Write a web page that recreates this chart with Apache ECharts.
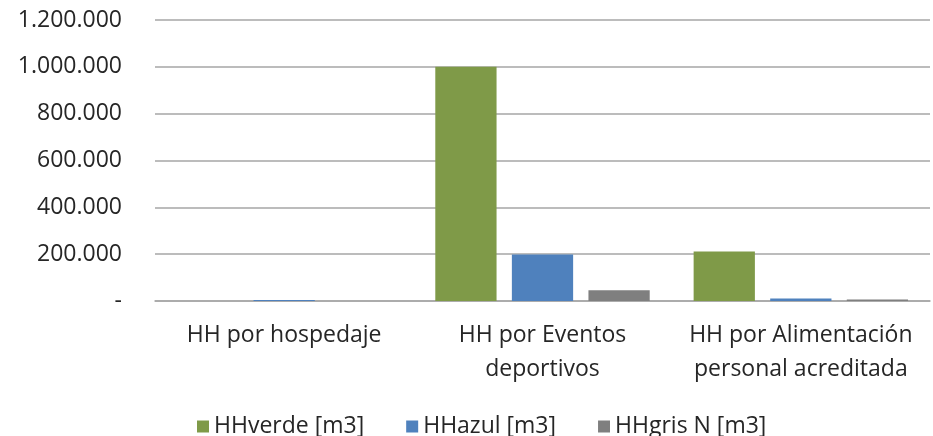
<!DOCTYPE html>
<html>
<head>
<meta charset="utf-8">
<script src="https://cdn.jsdelivr.net/npm/echarts@6/dist/echarts.min.js"></script>
<style>
    html, body { margin: 0; padding: 0; background: #fff; }
    #chart { width: 933px; height: 436px; }
</style>
</head>
<body>
<div id="chart"></div>
<script>
    // categorias y valores
    var categorias = ['HH por hospedaje', 'HH por Eventos\ndeportivos', 'HH por Alimentación\npersonal acreditada'];
    var seriesNombres = ['HHverde [m3]', 'HHazul [m3]', 'HHgris N [m3]'];
    var hhVerde = [0, 1000000, 211000];
    var hhAzul = [4000, 199000, 11000];
    var hhGris = [0, 46000, 6000];
    var colores = ['#7F9A48', '#4F81BD', '#7F7F7F'];

    var fuente = '"Open Sans", "Noto Sans", sans-serif';

    function formatoMiles(v) {
        if (v === 0) return '-';
        return String(v).replace(/\B(?=(\d{3})+(?!\d))/g, '.');
    }

    var chart = echarts.init(document.getElementById('chart'));
    var datos = [hhVerde, hhAzul, hhGris];

    chart.setOption({
        animation: false,
        color: colores,
        textStyle: { fontFamily: fuente },
        grid: { left: 155, right: 3, top: 20, bottom: 135 },
        legend: {
            bottom: -7,
            left: 192,
            itemWidth: 12,
            itemHeight: 12,
            itemGap: 42,
            icon: 'rect',
            textStyle: { fontSize: 23, color: '#262626', fontFamily: fuente },
            data: seriesNombres
        },
        xAxis: {
            type: 'category',
            data: categorias,
            axisLine: { lineStyle: { color: '#A6A6A6', width: 1.5 } },
            axisTick: { show: false },
            axisLabel: {
                color: '#262626',
                fontSize: 23,
                lineHeight: 34,
                margin: 17,
                interval: 0
            }
        },
        yAxis: {
            type: 'value',
            min: 0,
            max: 1200000,
            interval: 200000,
            axisLine: { show: false },
            axisTick: { show: false },
            splitLine: { lineStyle: { color: '#A6A6A6', width: 1.5 } },
            axisLabel: {
                color: '#262626',
                fontSize: 23,
                margin: 33,
                formatter: formatoMiles
            }
        },
        series: seriesNombres.map(function (n, i) {
            return {
                name: n,
                type: 'bar',
                data: datos[i],
                barGap: '25%',
                barCategoryGap: '17%'
            };
        })
    });
</script>
</body>
</html>
